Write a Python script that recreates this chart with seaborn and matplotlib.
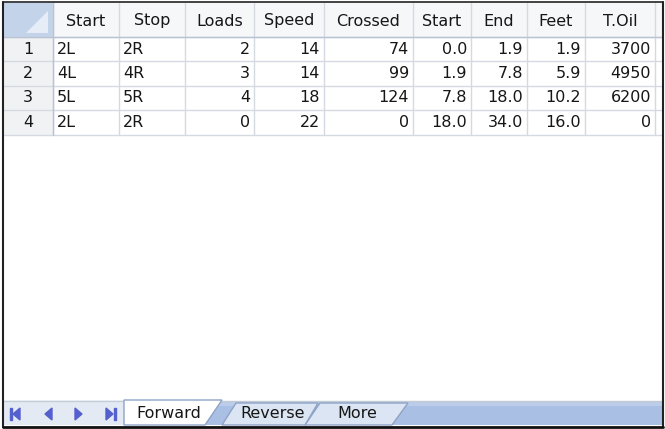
import matplotlib
matplotlib.use("Agg")
import matplotlib.pyplot as plt
from matplotlib.patches import Rectangle, Polygon
import seaborn as sns
import pandas as pd

# ---------------- data ----------------
row_ids = [1, 2, 3, 4]
start_pt = ["2L", "4L", "5L", "2L"]
stop_pt = ["2R", "4R", "5R", "2R"]
loads = [2, 3, 4, 0]
speed = [14, 14, 18, 22]
crossed = [74, 99, 124, 0]
start_ft = [0.0, 1.9, 7.8, 18.0]
end_ft = [1.9, 7.8, 18.0, 34.0]
feet = [1.9, 5.9, 10.2, 16.0]
t_oil = [3700, 4950, 6200, 0]
headers = ["Start", "Stop", "Loads", "Speed", "Crossed", "Start", "End", "Feet", "T.Oil"]
tabs = ["Forward", "Reverse", "More"]

df = pd.DataFrame({
    "c0": start_pt, "c1": stop_pt, "c2": loads, "c3": speed, "c4": crossed,
    "c5": start_ft, "c6": end_ft, "c7": feet, "c8": t_oil,
})
fmt = ["{}", "{}", "{}", "{}", "{}", "{:.1f}", "{:.1f}", "{:.1f}", "{}"]
align_left = [True, True, False, False, False, False, False, False, False]

# ---------------- style ----------------
sns.set_theme(style="white")
plt.rcParams["font.family"] = ["DejaVu Sans"]
FS = 11.5
TXT = "#161616"
GRID = "#d5dae2"

W, H = 665, 429
fig = plt.figure(figsize=(W / 100, H / 100), dpi=100)
ax = fig.add_axes([0, 0, 1, 1])
ax.set_xlim(0, W)
ax.set_ylim(H, 0)
ax.axis("off")

col_x = [3, 53, 119, 185, 254, 324, 413, 471, 527, 585, 655, 663]
row_y = [3, 37, 61, 86, 110, 135]

# background
ax.add_patch(Rectangle((0, 0), W, H, color="white", zorder=0))

# header band
ax.add_patch(Rectangle((col_x[0], row_y[0]), col_x[-1] - col_x[0], row_y[1] - row_y[0],
                       facecolor="#f6f7f9", edgecolor="none", zorder=1))
# corner cell
ax.add_patch(Rectangle((col_x[0], row_y[0]), col_x[1] - col_x[0], row_y[1] - row_y[0],
                       facecolor="#c3d4ea", edgecolor="none", zorder=2))
ax.add_patch(Polygon([(48, 11), (48, 33), (26, 33)], closed=True,
                     facecolor="#e6edf6", edgecolor="none", zorder=3))
# row header cells
ax.add_patch(Rectangle((col_x[0], row_y[1]), col_x[1] - col_x[0], row_y[-1] - row_y[1],
                       facecolor="#f1f2f4", edgecolor="none", zorder=1))

# grid lines
for x in col_x[1:-1]:
    ax.plot([x, x], [row_y[0], row_y[-1]], color=GRID, lw=1, zorder=4)
for y in row_y[1:]:
    ax.plot([col_x[0], col_x[-1]], [y, y], color=GRID, lw=1, zorder=4)
ax.plot([col_x[1], col_x[1]], [row_y[0], row_y[-1]], color="#b9c3d2", lw=1, zorder=5)
ax.plot([col_x[0], col_x[-1]], [row_y[1], row_y[1]], color="#b9c3d2", lw=1, zorder=5)

# header text
for j, h in enumerate(headers):
    cx = (col_x[j + 1] + col_x[j + 2]) / 2
    ax.text(cx, (row_y[0] + row_y[1]) / 2 + 1, h, ha="center", va="center",
            fontsize=FS, color=TXT, zorder=6)

# body text
for i, rid in enumerate(row_ids):
    cy = (row_y[i + 1] + row_y[i + 2]) / 2
    ax.text((col_x[0] + col_x[1]) / 2, cy, str(rid), ha="center", va="center",
            fontsize=FS, color=TXT, zorder=6)
    for j, col in enumerate(df.columns):
        s = fmt[j].format(df[col].iloc[i])
        if align_left[j]:
            ax.text(col_x[j + 1] + 4, cy, s, ha="left", va="center",
                    fontsize=FS, color=TXT, zorder=6)
        else:
            ax.text(col_x[j + 2] - 4, cy, s, ha="right", va="center",
                    fontsize=FS, color=TXT, zorder=6)

# ---------------- sheet tab bar ----------------
bar_top, bar_bot = 401, 425
ax.add_patch(Rectangle((3, bar_top), 660, bar_bot - bar_top, facecolor="#a9bfe3",
                       edgecolor="none", zorder=2))
ax.add_patch(Rectangle((3, bar_top), 660, 5, facecolor="#bccdea",
                       edgecolor="none", zorder=2))
ax.plot([3, 663], [bar_top, bar_top], color="#c2cad6", lw=1, zorder=3)
# nav area
ax.add_patch(Rectangle((3, bar_top), 121, bar_bot - bar_top, facecolor="#e3eaf4",
                       edgecolor="none", zorder=3))
ax.plot([3, 124], [bar_top, bar_top], color="#c4ccd8", lw=1, zorder=4)
NAV = "#5560cf"
yc = (bar_top + bar_bot) / 2 + 1
# |<
ax.add_patch(Rectangle((10, yc - 6), 2, 12, color=NAV, zorder=5))
ax.add_patch(Polygon([(13, yc), (20, yc - 6), (20, yc + 6)], color=NAV, zorder=5))
# <
ax.add_patch(Polygon([(45, yc), (52, yc - 6), (52, yc + 6)], color=NAV, zorder=5))
# >
ax.add_patch(Polygon([(82, yc), (75, yc - 6), (75, yc + 6)], color=NAV, zorder=5))
# >|
ax.add_patch(Polygon([(113, yc), (106, yc - 6), (106, yc + 6)], color=NAV, zorder=5))
ax.add_patch(Rectangle((114, yc - 6), 2, 12, color=NAV, zorder=5))

# tabs (More drawn first so earlier tabs overlap)
tab_shapes = [
    [(124, bar_top - 1), (124, bar_bot), (205, bar_bot), (222, bar_top - 1)],
    [(222, bar_bot), (236, bar_top + 2), (318, bar_top + 2), (305, bar_bot)],
    [(305, bar_bot), (320, bar_top + 2), (408, bar_top + 2), (392, bar_bot)],
]
tab_fill = ["white", "#dbe5f3", "#dbe5f3"]
tab_text_x = [136, 240, 337]
for k in [2, 1, 0]:
    ax.add_patch(Polygon(tab_shapes[k], closed=True, facecolor=tab_fill[k],
                         edgecolor="#8ea3c6", lw=1, zorder=6 + (3 - k)))
    ax.text(tab_text_x[k], yc, tabs[k], ha="left", va="center", fontsize=FS,
            color=TXT, zorder=10)

# outer border
ax.plot([3, 3], [2, 427], color="#222222", lw=1.5, zorder=12)
ax.plot([663, 663], [2, 427], color="#222222", lw=1.5, zorder=12)
ax.plot([3, 663], [2, 2], color="#222222", lw=1.2, zorder=12)
ax.plot([3, 663], [426.5, 426.5], color="#111111", lw=2, zorder=12)

fig.savefig("out.png", dpi=100)
